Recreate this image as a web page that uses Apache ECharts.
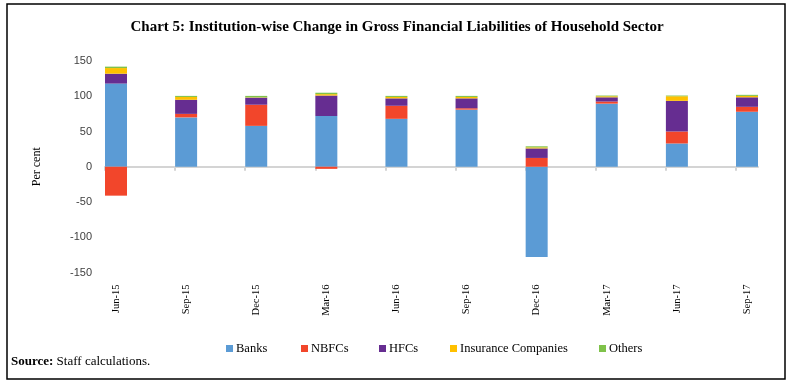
<!DOCTYPE html>
<html>
<head>
<meta charset="utf-8">
<script src="https://cdn.jsdelivr.net/npm/echarts@6/dist/echarts.min.js"></script>
<style>html,body{margin:0;padding:0;background:#fff;}#c{width:794px;height:386px;}</style>
</head>
<body>
<div id="c"></div>
<script>
const categories = ['Jun-15','Sep-15','Dec-15','Mar-16','Jun-16','Sep-16','Dec-16','Mar-17','Jun-17','Sep-17'];
const banks     = [118, 70, 58, 72, 68, 81, -128, 89.5, 33, 78];
const nbfcs     = [-41, 5, 30, -3, 18.5, 2, 12.5, 3, 17, 7];
const hfcs      = [14, 20, 10, 29, 10.5, 14, 13.5, 6, 43.5, 13.5];
const insurance = [8, 4, 0.5, 2, 2, 2, 1.5, 1.5, 6.5, 2];
const others    = [2, 1.5, 2, 2, 1.5, 1.5, 1.5, 1, 1, 1.5];
const seriesNames = ['Banks','NBFCs','HFCs','Insurance Companies','Others'];
const yTicks = {min: -150, max: 150, interval: 50};

const colors = ['#5B9BD5', '#F2462B', '#662D91', '#FFC000', '#7FC24A'];
const serif = 'Liberation Serif';
const seriesData = [banks, nbfcs, hfcs, insurance, others];
const legendLeft = [226, 301, 379, 450, 599];

const chart = echarts.init(document.getElementById('c'));
const catCount = categories.length;
const option = {
  animation: false,
  title: {
    text: 'Chart 5: Institution-wise Change in Gross Financial Liabilities of Household Sector',
    left: 'center', top: 15,
    textStyle: {fontFamily: serif, fontWeight: 'bold', fontSize: 15, color: '#000'}
  },
  legend: seriesNames.map((n, i) => ({
    data: [n], left: legendLeft[i], top: 342, padding: 0, itemWidth: 7, itemHeight: 7, itemGap: 0,
    icon: 'rect', textStyle: {fontFamily: serif, fontSize: 12.5, color: '#000', padding: [0, 0, 0, -2]}
  })),
  grid: [
    {left: 116, right: 47, top: 61, bottom: 113.5},
    {left: 105, right: 36, top: 61, bottom: 113.5}
  ],
  xAxis: [
    {
      type: 'category', gridIndex: 0, data: categories, boundaryGap: false,
      axisLine: {show: false, onZero: false}, axisTick: {show: false},
      axisLabel: {rotate: 90, margin: 12, fontFamily: serif, fontSize: 10.5, color: '#000'}
    },
    {
      type: 'value', gridIndex: 1, min: 0, max: (catCount - 1) + 22 / 70.1, interval: 1,
      axisLine: {show: true, onZero: true, lineStyle: {color: '#D4D4D4', width: 2}},
      axisTick: {show: true, length: 4, lineStyle: {color: '#D4D4D4', width: 2},
        customValues: categories.map((c, i) => i)},
      axisLabel: {show: false}, splitLine: {show: false}
    }
  ],
  yAxis: [
    {type: 'value', gridIndex: 0, min: yTicks.min, max: yTicks.max, interval: yTicks.interval, show: false},
    {
      type: 'value', gridIndex: 1, min: yTicks.min, max: yTicks.max, interval: yTicks.interval,
      axisLine: {show: false}, axisTick: {show: false}, splitLine: {show: false},
      axisLabel: {margin: 13, fontFamily: 'Liberation Sans', fontSize: 11, color: '#404040'},
      name: 'Per cent', nameLocation: 'middle', nameGap: 62, nameRotate: 90,
      nameTextStyle: {fontFamily: serif, fontSize: 12, color: '#000'}
    }
  ],
  series: seriesNames.map((n, i) => ({
    name: n, type: 'bar', stack: 'total', xAxisIndex: 0, yAxisIndex: 0,
    data: seriesData[i], barWidth: 22, clip: false,
    itemStyle: {color: colors[i]}
  })),
  graphic: [
    {type: 'rect', shape: {x: 7, y: 4, width: 778, height: 375}, style: {fill: 'none', stroke: '#000', lineWidth: 1.5}, z: 100},
    {type: 'text', left: 11, top: 355, style: {
      text: '{b|Source:} Staff calculations.',
      rich: {b: {fontFamily: serif, fontWeight: 'bold', fontSize: 13, fill: '#000'}},
      fontFamily: serif, fontSize: 13, fill: '#000'
    }}
  ]
};
chart.setOption(option);
</script>
</body>
</html>
